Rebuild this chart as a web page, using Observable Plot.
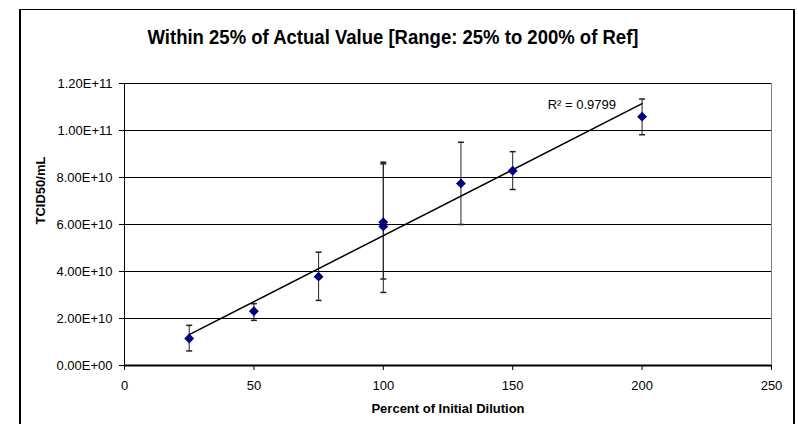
<!DOCTYPE html>
<html>
<head>
<meta charset="utf-8">
<script src="https://cdn.jsdelivr.net/npm/d3@7"></script>
<script src="https://cdn.jsdelivr.net/npm/@observablehq/plot@0.6"></script>
<style>
  html, body { margin: 0; padding: 0; background: #fff; }
  #wrap { position: relative; width: 798px; height: 424px; overflow: hidden; }
  #border { position: absolute; left: 19px; top: 9px; width: 772px; height: 430px;
            border-top: 1px solid #000; border-left: 2px solid #000; border-right: 2px solid #000; }
  #chart { position: absolute; left: 0; top: 0; }
</style>
</head>
<body>
<div id="wrap"><div id="border"></div><div id="chart"></div></div>
<script>
const FONT = "'Liberation Sans', Arial, Helvetica, sans-serif";

const titleText = "Within 25% of Actual Value [Range: 25% to 200% of Ref]";
const xTitle = "Percent of Initial Dilution";
const yTitle = "TCID50/mL";
const r2Text = "R² = 0.9799";

// Data
const xValues   = [25, 50, 75, 100, 100, 130, 150, 200];
const yValues   = [1.15e10, 2.31e10, 3.78e10, 6.10e10, 5.92e10, 7.75e10, 8.29e10, 10.59e10];
const yHigh     = [1.71e10, 2.63e10, 4.82e10, 8.65e10, 8.58e10, 9.50e10, 9.10e10, 11.34e10];
const yLow      = [0.62e10, 1.92e10, 2.77e10, 3.68e10, 3.11e10, 6.00e10, 7.49e10, 9.82e10];

const xTicks = [0, 50, 100, 150, 200, 250];
const yTicks = [0, 2e10, 4e10, 6e10, 8e10, 1e11, 1.2e11];
const yTickLabels = ["0.00E+00", "2.00E+10", "4.00E+10", "6.00E+10", "8.00E+10", "1.00E+11", "1.20E+11"];

const r2Pos = [{x: 163.5, y: 1.11e11, label: r2Text}];

const data = xValues.map((x, i) => ({x, y: yValues[i], hi: yHigh[i], lo: yLow[i]}));

const capSymbol = {
  draw(context) { context.moveTo(-3, 0); context.lineTo(3, 0); }
};

const chart = Plot.plot({
  width: 798,
  height: 424,
  marginLeft: 124,
  marginRight: 27,
  marginTop: 83,
  marginBottom: 59,
  style: {fontFamily: FONT, fontSize: "13px", color: "#000", background: "transparent", overflow: "visible"},
  x: {domain: [0, 250]},
  y: {domain: [0, 1.2e11]},
  marks: [
    Plot.gridY(yTicks, {stroke: "#000", strokeOpacity: 1}),
    Plot.ruleX([250], {stroke: "#808080"}),
    Plot.ruleX([0], {stroke: "#000"}),
    Plot.ruleY([0], {stroke: "#000", strokeWidth: 2}),
    Plot.axisY({ticks: yTicks, tickFormat: d => yTickLabels[yTicks.indexOf(d)], tickSize: 5, tickPadding: 7, label: null}),
    Plot.axisX({ticks: xTicks, tickSize: 5, tickPadding: 10, label: null}),
    Plot.ruleX(data, {x: "x", y1: "lo", y2: "hi", stroke: "#222"}),
    Plot.dot(data, {x: "x", y: "hi", symbol: capSymbol, stroke: "#222", fill: "none"}),
    Plot.dot(data, {x: "x", y: "lo", symbol: capSymbol, stroke: "#222", fill: "none"}),
    Plot.linearRegressionY(data, {x: "x", y: "y", ci: 0, stroke: "#000", strokeWidth: 1.5}),
    Plot.dot(data, {x: "x", y: "y", symbol: "diamond2", r: 3.5, fill: "#000080", stroke: "#000080"}),
    Plot.text(r2Pos, {x: "x", y: "y", text: "label", textAnchor: "start", fontSize: 13, fill: "#000"}),
    Plot.text([titleText], {frameAnchor: "top", lineAnchor: "middle", dy: -46, dx: -55, fontSize: 20, fontWeight: "bold", fill: "#000", className: "chart-title"}),
    Plot.text([xTitle], {frameAnchor: "bottom", lineAnchor: "middle", dy: 43, fontSize: 13, fontWeight: "bold", fill: "#000"}),
    Plot.text([yTitle], {frameAnchor: "left", lineAnchor: "middle", dx: -84, rotate: -90, fontSize: 13, fontWeight: "bold", fill: "#000"})
  ]
});
chart.querySelectorAll("text").forEach(t => {
  if (t.textContent === titleText) {
    t.setAttribute("textLength", "491");
    t.setAttribute("lengthAdjust", "spacingAndGlyphs");
  }
});
document.getElementById("chart").appendChild(chart);
</script>
</body>
</html>
